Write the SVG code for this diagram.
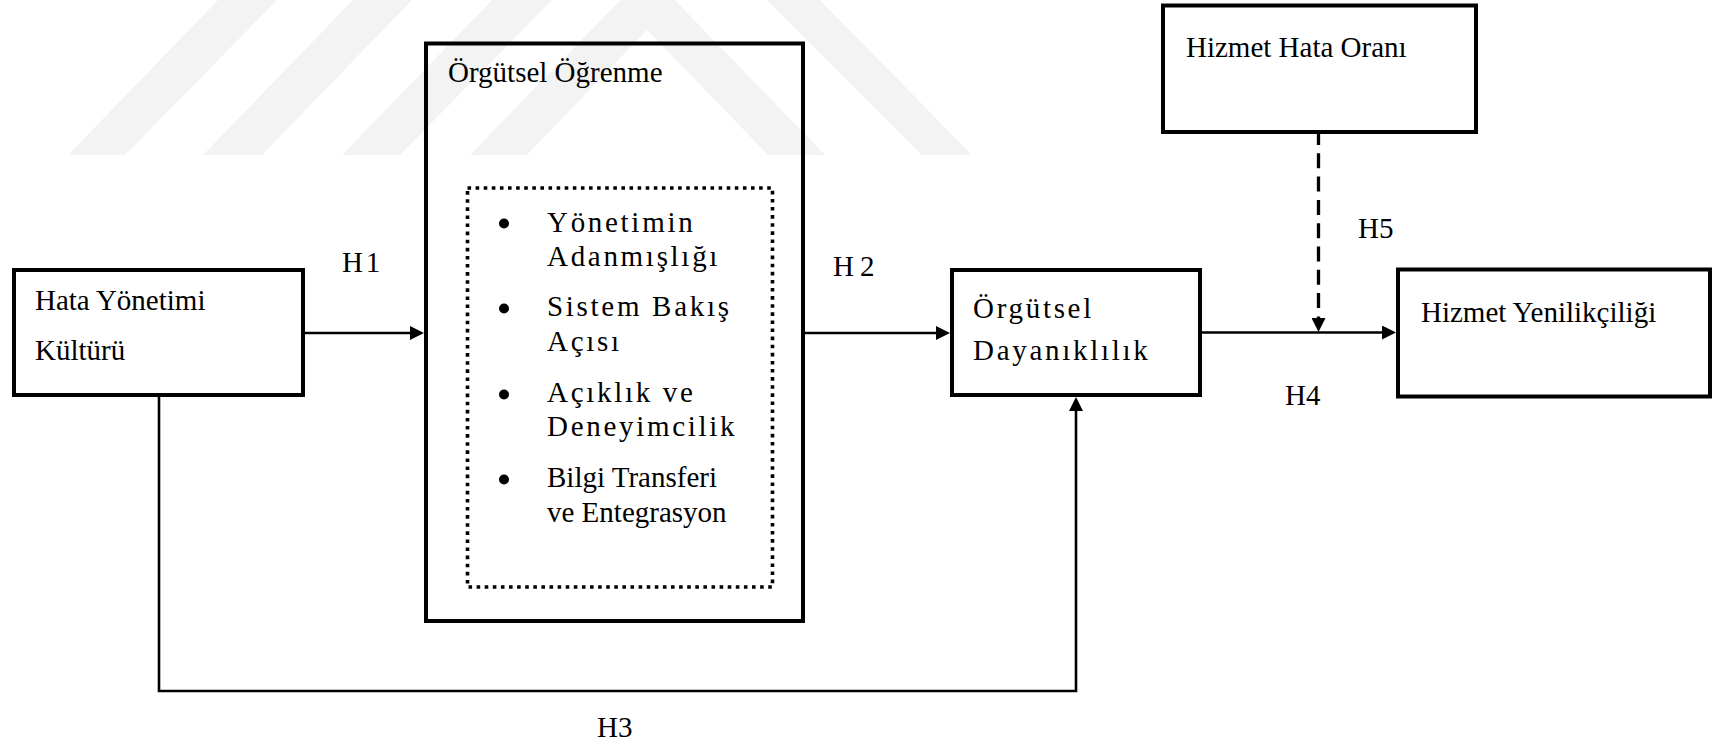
<svg xmlns="http://www.w3.org/2000/svg" width="1715" height="745" viewBox="0 0 1715 745">
  <style>
    .t { font-family: "Liberation Serif", "Times New Roman", Tinos, "Noto Serif", "DejaVu Serif", serif; font-size: 29px; fill: #000; }
    .sp { letter-spacing: 2.7px; }
    .box { fill: none; stroke: #000; stroke-width: 4; stroke-linejoin: miter; }
    .inner { fill: none; stroke: #000; stroke-width: 3.6; stroke-dasharray: 3.6 4.5; }
    .wire { fill: none; stroke: #000; stroke-width: 2.6; }
    .dash { fill: none; stroke: #000; stroke-width: 3.3; stroke-dasharray: 15 8.3; }
    .mark { fill: #f3f3f3; stroke: none; }
  </style>
  <defs>
    <marker id="arrow" markerUnits="userSpaceOnUse" markerWidth="14" markerHeight="14" refX="6" refY="7" orient="auto">
      <path d="M0,0 L14,7 L0,14 Z" fill="#000"/>
    </marker>
  </defs>

  <rect width="1715" height="745" fill="#fff"/>

  <!-- light background emblem -->
  <g id="emblem">
    <polygon class="mark" points="68,155 125,155 277,0 218,0"/>
    <polygon class="mark" points="203,155 262,155 412,0 353,0"/>
    <polygon class="mark" points="342,155 400,155 552,0 492,0"/>
    <polygon class="mark" points="470,155 527,155 647,30 768,155 825,155 647.5,-28"/>
    <polygon class="mark" points="767,0 820,0 972,155 922,155"/>
  </g>

  <g id="connectors">
    <!-- H1 -->
    <path class="wire" d="M305,333 H416" marker-end="url(#arrow)"/>
    <!-- H2 -->
    <path class="wire" d="M805,333 H942" marker-end="url(#arrow)"/>
    <!-- H4 -->
    <path class="wire" d="M1202,332.5 H1388" marker-end="url(#arrow)"/>
    <!-- H3 -->
    <path class="wire" d="M159,397 V691 H1076 V405" marker-end="url(#arrow)"/>
    <!-- H5 (moderator) -->
    <path class="dash" d="M1318.5,130 V324" marker-end="url(#arrow)"/>
  </g>

  <g font-family="'Liberation Serif', 'Times New Roman', Tinos, 'Noto Serif', 'DejaVu Serif', serif">
    <g id="hata-yonetimi">
      <rect class="box" x="14" y="270" width="289" height="125"/>
      <text class="t" x="35" y="310">Hata Yönetimi</text>
      <text class="t" x="35" y="360">Kültürü</text>
    </g>

    <g id="orgutsel-ogrenme">
      <rect class="box" x="426" y="43.5" width="377" height="577.5"/>
      <text class="t" x="448" y="82">Örgütsel Öğrenme</text>
      <rect class="inner" x="467.5" y="188" width="305" height="399"/>
      <circle cx="504" cy="223.5" r="5"/>
      <text class="t sp" x="547" y="232">Yönetimin</text>
      <text class="t sp" x="547" y="266">Adanmışlığı</text>
      <circle cx="504" cy="308.5" r="5"/>
      <text class="t sp" x="547" y="316">Sistem Bakış</text>
      <text class="t sp" x="547" y="351">Açısı</text>
      <circle cx="504" cy="394.5" r="5"/>
      <text class="t sp" x="547" y="402">Açıklık ve</text>
      <text class="t sp" x="547" y="436">Deneyimcilik</text>
      <circle cx="504" cy="479.5" r="5"/>
      <text class="t" x="547" y="487">Bilgi Transferi</text>
      <text class="t" x="547" y="522">ve Entegrasyon</text>
    </g>

    <g id="orgutsel-dayaniklilik">
      <rect class="box" x="952" y="270" width="248" height="125"/>
      <text class="t sp" x="973" y="318">Örgütsel</text>
      <text class="t sp" x="973" y="360">Dayanıklılık</text>
    </g>

    <g id="hizmet-hata-orani">
      <rect class="box" x="1163" y="5.5" width="313" height="126.5"/>
      <text class="t" x="1186" y="57">Hizmet Hata Oranı</text>
    </g>

    <g id="hizmet-yenilikciligi">
      <rect class="box" x="1398" y="269.5" width="312" height="127"/>
      <text class="t" x="1421" y="322">Hizmet Yenilikçiliği</text>
    </g>

    <g id="labels">
      <text class="t" x="342" y="272" style="letter-spacing:2.8px">H1</text>
      <text class="t" x="833" y="276" style="letter-spacing:6px">H2</text>
      <text class="t" x="597" y="737">H3</text>
      <text class="t" x="1285" y="405">H4</text>
      <text class="t" x="1358" y="238">H5</text>
    </g>
  </g>
</svg>
